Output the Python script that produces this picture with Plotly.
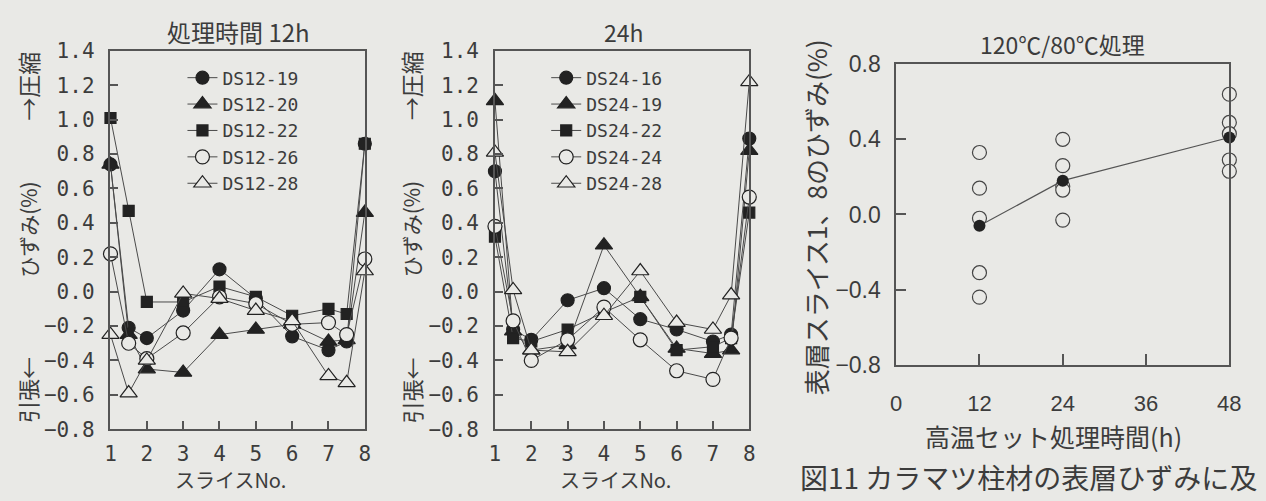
import plotly.graph_objects as go

# ---------------- data ----------------
slice_pos = [1, 1.5, 2, 3, 4, 5, 6, 7, 7.5, 8]

names_12 = ["DS12-19", "DS12-20", "DS12-22", "DS12-26", "DS12-28"]
DS12_19 = [0.74, -0.21, -0.27, -0.11, 0.13, -0.04, -0.26, -0.34, -0.29, 0.86]
DS12_20 = [0.74, -0.25, -0.45, -0.47, -0.25, -0.22, -0.19, -0.29, -0.28, 0.46]
DS12_22 = [1.01, 0.47, -0.06, -0.06, 0.03, -0.03, -0.14, -0.10, -0.13, 0.86]
DS12_26 = [0.22, -0.30, -0.39, -0.24, -0.03, -0.07, -0.19, -0.18, -0.25, 0.19]
DS12_28 = [-0.25, -0.59, -0.40, -0.01, -0.04, -0.11, -0.17, -0.49, -0.53, 0.12]

names_24 = ["DS24-16", "DS24-19", "DS24-22", "DS24-24", "DS24-28"]
DS24_16 = [0.70, -0.22, -0.28, -0.05, 0.02, -0.16, -0.22, -0.29, -0.25, 0.89]
DS24_19 = [1.11, -0.23, -0.34, -0.31, 0.27, -0.03, -0.33, -0.36, -0.34, 0.82]
DS24_22 = [0.32, -0.27, -0.29, -0.22, -0.12, -0.03, -0.34, -0.32, -0.27, 0.46]
DS24_24 = [0.38, -0.17, -0.40, -0.28, -0.09, -0.28, -0.46, -0.51, -0.27, 0.55]
DS24_28 = [0.81, 0.01, -0.34, -0.35, -0.14, 0.12, -0.18, -0.22, -0.02, 1.22]

hours = [12, 24, 48]
indiv_12h = [0.33, 0.14, -0.02, -0.31, -0.44]
indiv_24h = [0.40, 0.26, 0.15, 0.13, -0.03]
indiv_48h = [0.64, 0.49, 0.43, 0.29, 0.23]
mean_strain = [-0.06, 0.18, 0.41]

slice_ticks = [1, 2, 3, 4, 5, 6, 7, 8]
hour_ticks = [0, 12, 24, 36, 48]

# ---------------- style ----------------
BG = "#e9e9e6"
INK = "#222222"
LINE = "#4a4a4a"
AX = "#555555"
TXT = "#3c3c3c"
JP = "Noto Sans CJK JP"
MONO = "DejaVu Sans Mono"

W, H = 1266, 501


def px_x(v):
    return v / W


def px_y(v):
    return 1 - v / H


symbols = [
    ("circle", INK, 13),
    ("triangle-up", INK, 15),
    ("square", INK, 11),
    ("circle", BG, 14),
    ("triangle-up", BG, 15),
]

fig = go.Figure()

for names, series, xa, ya, lg in [
    (names_12, [DS12_19, DS12_20, DS12_22, DS12_26, DS12_28], "x", "y", "legend"),
    (names_24, [DS24_16, DS24_19, DS24_22, DS24_24, DS24_28], "x2", "y2", "legend2"),
]:
    for nm, vals, (sym, fill, sz) in zip(names, series, symbols):
        fig.add_trace(go.Scatter(
            x=slice_pos, y=vals, name=nm, mode="lines+markers",
            xaxis=xa, yaxis=ya, legend=lg, cliponaxis=False,
            line=dict(color=LINE, width=1),
            marker=dict(symbol=sym, size=sz, color=fill,
                        line=dict(color=INK, width=1.2)),
        ))

# panel 3
for h, vals in zip(hours, [indiv_12h, indiv_24h, indiv_48h]):
    fig.add_trace(go.Scatter(
        x=[h] * len(vals), y=vals, mode="markers", showlegend=False,
        xaxis="x3", yaxis="y3", cliponaxis=False,
        marker=dict(symbol="circle", size=14, color=BG,
                    line=dict(color="#444444", width=1.2)),
    ))
fig.add_trace(go.Scatter(
    x=hours, y=mean_strain, mode="lines+markers", showlegend=False,
    xaxis="x3", yaxis="y3", cliponaxis=False,
    line=dict(color="#555555", width=1.2),
    marker=dict(symbol="circle", size=12, color=INK),
))

axis_common = dict(showline=True, mirror=True, linecolor=AX, linewidth=1.5,
                   ticks="inside", tickcolor=AX, tickwidth=1.5,
                   showgrid=False, zeroline=False)

slice_x = dict(axis_common, range=[1, 8], tickvals=slice_ticks, ticklen=8,
               tickfont=dict(family=MONO, size=21, color=TXT), ticklabelstandoff=5)
strain_y = dict(axis_common, range=[-0.8, 1.4], dtick=0.2, tick0=0, tickformat=".1f",
                ticklen=8, tickfont=dict(family=MONO, size=21, color=TXT),
                ticklabelstandoff=10)

fig.update_layout(
    width=W, height=H, margin=dict(l=0, r=0, t=0, b=0),
    paper_bgcolor=BG, plot_bgcolor=BG,
    xaxis=dict(slice_x, domain=[px_x(106), px_x(364)], anchor="y"),
    yaxis=dict(strain_y, domain=[px_y(439), px_y(40)], anchor="x"),
    xaxis2=dict(slice_x, domain=[px_x(496), px_x(754)], anchor="y2"),
    yaxis2=dict(strain_y, domain=[px_y(439), px_y(40)], anchor="x2"),
    xaxis3=dict(axis_common, range=[0, 48], tickvals=hour_ticks, ticklen=11,
                tickfont=dict(family="Liberation Sans", size=22, color=TXT),
                ticklabelstandoff=18,
                domain=[px_x(903), px_x(1241)], anchor="y3"),
    yaxis3=dict(axis_common, range=[-0.8, 0.8], dtick=0.4, tick0=0, tickformat=".1f",
                ticklen=10, tickfont=dict(family="Liberation Sans", size=23, color=TXT),
                ticklabelstandoff=9,
                domain=[px_y(371), px_y(54)], anchor="x3"),
    legend=dict(x=px_x(179), y=px_y(49), xanchor="left", yanchor="top",
                bgcolor="rgba(0,0,0,0)", borderwidth=0, tracegroupgap=0,
                font=dict(family=MONO, size=18, color=TXT), itemsizing="trace"),
    legend2=dict(x=px_x(548), y=px_y(49), xanchor="left", yanchor="top",
                 bgcolor="rgba(0,0,0,0)", borderwidth=0, tracegroupgap=0,
                 font=dict(family=MONO, size=18, color=TXT), itemsizing="trace"),
    font=dict(family=JP, color=TXT),
)

ann = []


def text(x, y, s, size, angle=0, xanchor="center", family=JP):
    ann.append(dict(x=px_x(x), y=px_y(y), xref="paper", yref="paper", text=s,
                    showarrow=False, textangle=angle, xanchor=xanchor,
                    yanchor="middle", font=dict(family=family, size=size, color=TXT)))


# panel titles
text(236, 20, "処理時間 12h", 24)
text(627, 20, "24h", 23)
text(1072, 33, "120℃/80℃処理", 23)

# x titles
text(228, 492, "スライスNo.", 20)
text(618, 492, "スライスNo.", 20)
text(1063, 446, "高温セット処理時間(h)", 25)

# y titles (panels 1,2)
for xc in (22, 411):
    text(xc, 77, "→圧縮", 23, angle=-90)
    text(xc, 228, "ひずみ(%)", 21, angle=-90)
    text(xc, 398, "引張←", 22, angle=-90)

# y title panel 3
text(822, 215, "表層スライス1、8のひずみ(%)", 26, angle=-90)

# caption (cut at right edge as in source)
text(803, 489, "図11 カラマツ柱材の表層ひずみに及", 28, xanchor="left")

fig.update_layout(annotations=ann)

fig.write_html("out.html", config={"displayModeBar": False},
               post_script="document.body.style.margin='0px';document.body.style.overflow='hidden';")
